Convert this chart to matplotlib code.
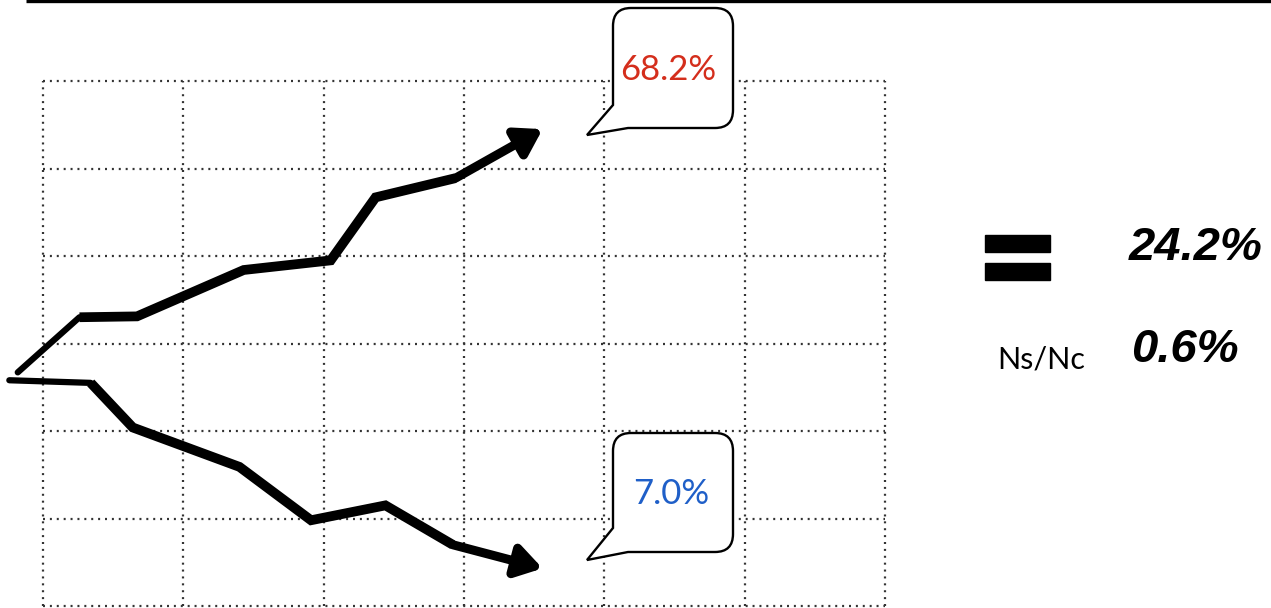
import matplotlib
matplotlib.use("Agg")
import matplotlib.pyplot as plt
from matplotlib.path import Path
from matplotlib.patches import PathPatch, Rectangle
import numpy as np

# paths in grid units (6 x 6 cells)
up_x = [-0.18, 0.26, 0.67, 1.43, 2.05, 2.37, 2.94, 3.56]
up_y = [2.67, 3.30, 3.31, 3.84, 3.95, 4.67, 4.89, 5.45]
down_x = [-0.24, 0.34, 0.64, 1.40, 1.91, 2.44, 2.92, 3.56]
down_y = [2.58, 2.55, 2.04, 1.59, 0.98, 1.15, 0.70, 0.43]

up_label = "68.2%"
down_label = "7.0%"
total_label = "24.2%"
ratio_label = "0.6%"
ratio_name = "Ns/Nc"

W, H = 1271, 608
fig = plt.figure(figsize=(W / 100, H / 100), dpi=100)

# grid axes
ax = fig.add_axes([43 / W, 2 / H, (885 - 43) / W, (606 - 81) / H])
ax.set_xlim(0, 6)
ax.set_ylim(0, 6)
ax.axis("off")
for k in range(7):
    ax.plot([k, k], [0, 6], color="#333333", lw=1.6, ls=(0, (0.9, 2.2)), clip_on=False)
    ax.plot([0, 6], [k, k], color="#333333", lw=1.6, ls=(0, (0.9, 2.2)), clip_on=False)


def draw_arrow(xs, ys):
    ax.plot(xs[:2], ys[:2], color="black", lw=4.5, solid_capstyle="round", clip_on=False, zorder=3)
    ax.plot(xs[1:-1], ys[1:-1], color="black", lw=7, solid_joinstyle="miter",
            solid_capstyle="butt", clip_on=False, zorder=3)
    ax.annotate("", xy=(xs[-1], ys[-1]), xytext=(xs[-2], ys[-2]),
                arrowprops=dict(arrowstyle="-|>,head_length=1.5,head_width=0.95",
                                color="black", lw=6.5, shrinkA=0, shrinkB=0),
                annotation_clip=False, zorder=3)


draw_arrow(up_x, up_y)
draw_arrow(down_x, down_y)

# overlay in pixel units for the callouts and side text
ov = fig.add_axes([0, 0, 1, 1])
ov.set_xlim(0, W)
ov.set_ylim(H, 0)
ov.axis("off")
ov.patch.set_alpha(0)

ov.plot([26, W], [1.3, 1.3], color="black", lw=2.4, solid_capstyle="butt")


def callout(L, R, T, B, tail_y, tip, tail_x, r=18):
    verts = [(L, T + r), (L, tail_y), tip, (tail_x, B), (R - r, B),
             (R, B), (R, B - r), (R, T + r), (R, T), (R - r, T),
             (L + r, T), (L, T), (L, T + r), (L, T + r)]
    codes = [Path.MOVETO, Path.LINETO, Path.LINETO, Path.LINETO, Path.LINETO,
             Path.CURVE3, Path.CURVE3, Path.LINETO, Path.CURVE3, Path.CURVE3,
             Path.LINETO, Path.CURVE3, Path.CURVE3, Path.CLOSEPOLY]
    ov.add_patch(PathPatch(Path(verts, codes), facecolor="white",
                           edgecolor="black", lw=1.7, zorder=4))


callout(613, 733, 8, 128, 105, (587, 135), 628)
callout(613, 733, 433, 552, 528, (587, 560), 628)

ov.text(668, 70, up_label, color="#d42e1c", fontsize=25, family="Lato",
        ha="center", va="center", zorder=5)
ov.text(671, 494, down_label, color="#1f5fc8", fontsize=25, family="Lato",
        ha="center", va="center", zorder=5)

ov.add_patch(Rectangle((985, 235), 65, 17, color="black"))
ov.add_patch(Rectangle((985, 263), 65, 17, color="black"))

ov.text(1129, 248, total_label, fontsize=34, family="Liberation Sans",
        weight="bold", style="italic", ha="left", va="center")
ov.text(1131, 350, ratio_label, fontsize=34, family="Liberation Sans",
        weight="bold", style="italic", ha="left", va="center")
ov.text(1041, 360, ratio_name, fontsize=22, family="Lato",
        ha="center", va="center")

fig.savefig("out.png", dpi=100)
